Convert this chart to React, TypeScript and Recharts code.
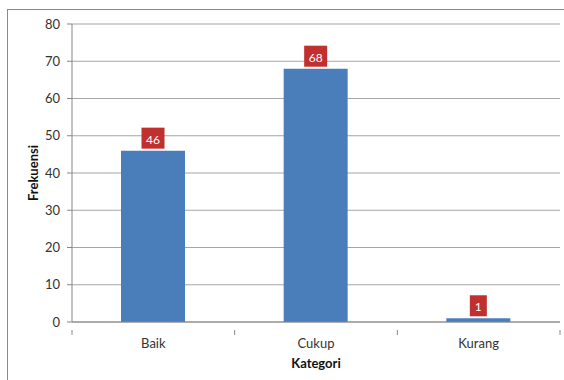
import { BarChart, Bar, XAxis, YAxis, CartesianGrid, LabelList } from 'recharts';

const categories = ['Baik', 'Cukup', 'Kurang'];
const frekuensi = [46, 68, 1];
const yTicks = [0, 10, 20, 30, 40, 50, 60, 70, 80];

const data = categories.map((name, i) => ({ name, value: frekuensi[i] }));

const FONT = 'Lato, "Open Sans", sans-serif';
const PLOT_LEFT = 72;
const PLOT_RIGHT = 560;
const BAND = (PLOT_RIGHT - PLOT_LEFT) / categories.length;

// category label plus tick marks on the band edges, like Excel
const CategoryTick = (props: any) => {
  const { x, y, payload, index } = props;
  const left = x - BAND / 2;
  const right = x + BAND / 2;
  return (
    <g>
      <line x1={left} y1={y} x2={left} y2={y + 5} stroke="#868686" />
      {index === categories.length - 1 && (
        <line x1={right} y1={y} x2={right} y2={y + 5} stroke="#868686" />
      )}
      <text x={x} y={y + 18} textAnchor="middle" fill="#333" fontSize={13} fontFamily={FONT}>
        {payload.value}
      </text>
    </g>
  );
};

const ValueBadge = (props: any) => {
  const { x, y, width, value } = props;
  const text = String(value);
  const w = text.length > 1 ? 23 : 17;
  const h = 21;
  const cx = x + width / 2;
  return (
    <g>
      <rect x={cx - w / 2} y={y - h - 2} width={w} height={h} fill="#c0302e" />
      <text x={cx} y={y - 7} textAnchor="middle" fill="#fff" fontSize={12} fontFamily={FONT}>
        {text}
      </text>
    </g>
  );
};

export default function App() {
  return (
    <div style={{ position: 'fixed', left: 0, top: 0, width: 564, height: 380, background: '#fff' }}>
      <div
        style={{
          position: 'absolute',
          left: 7,
          top: 9,
          width: 600,
          height: 400,
          border: '1px solid #8a8a8a',
        }}
      />
      <div style={{ position: 'absolute', left: 0, top: 0 }}>
        <BarChart
          width={564}
          height={380}
          data={data}
          margin={{ top: 24, right: 4, left: 0, bottom: 0 }}
          barCategoryGap={0}
        >
          <CartesianGrid vertical={false} stroke="#a6a6a6" strokeWidth={1.2} />
          <XAxis
            dataKey="name"
            height={58}
            axisLine={{ stroke: '#868686' }}
            tickLine={false}
            tick={<CategoryTick />}
            interval={0}
            label={{
              value: 'Kategori',
              position: 'insideBottom',
              offset: 12,
              fill: '#111',
              fontSize: 13,
              fontWeight: 700,
              fontFamily: FONT,
            }}
          />
          <YAxis
            width={72}
            domain={[0, 80]}
            ticks={yTicks}
            interval={0}
            axisLine={{ stroke: '#868686' }}
            tickLine={{ stroke: '#868686' }}
            tickSize={5}
            tickMargin={7}
            tick={{ fill: '#333', fontSize: 13, fontFamily: FONT }}
            label={{
              value: 'Frekuensi',
              angle: -90,
              position: 'insideLeft',
              offset: 33,
              fill: '#111',
              fontSize: 13,
              fontWeight: 700,
              fontFamily: FONT,
              style: { textAnchor: 'middle' },
            }}
          />
          <Bar dataKey="value" fill="#4a7ebb" barSize={64} isAnimationActive={false}>
            <LabelList dataKey="value" content={<ValueBadge />} />
          </Bar>
        </BarChart>
      </div>
    </div>
  );
}
